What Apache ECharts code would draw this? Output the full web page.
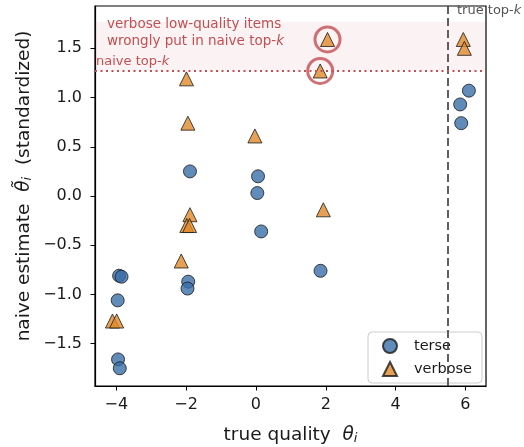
<!DOCTYPE html>
<html><head><meta charset="utf-8">
<script src="https://cdn.jsdelivr.net/npm/echarts@6/dist/echarts.min.js"></script>
<style>html,body{margin:0;padding:0;background:#fff}#c{width:524px;height:447px}</style>
</head><body><div id="c"></div>
<script>
// ---- data ----
const terseX = [6.10, 5.85, 5.88, 0.06, 0.04, 0.15, 1.85, -1.89, -3.92, -3.85, -3.96, -3.95, -3.90, -1.94, -1.96];
const terseY = [1.07, 0.93, 0.74, 0.20, 0.03, -0.36, -0.76, 0.25, -0.81, -0.82, -1.06, -1.66, -1.75, -0.87, -0.94];
const verboseX = [2.05, 1.84, -1.99, 5.94, 5.97, -1.95, -0.03, 1.93, -1.89, -1.98, -1.90, -2.14, -4.11, -3.99];
const verboseY = [1.59, 1.27, 1.19, 1.59, 1.50, 0.74, 0.61, -0.14, -0.19, -0.30, -0.30, -0.66, -1.27, -1.27];
const flaggedX = [2.05, 1.84];
const flaggedY = [1.59, 1.27];
const naiveCut = 1.275;
const bandTop = 1.77;
const trueCut = 5.5;
const xTicks = [-4, -2, 0, 2, 4, 6];
const yTicks = [-1.5, -1.0, -0.5, 0.0, 0.5, 1.0, 1.5];
const xRange = [-4.61, 6.59];
const yRange = [-1.93, 1.93];

const zip = (a, b) => a.map((v, i) => [v, b[i]]);
const fmt = (v, d) => { const s = Math.abs(v).toFixed(d); return v < 0 ? '\u2212' + s : s; };
const RED = '#c44e52', BLUE = '#3a6ea8', ORANGE = '#e0892b', INK = '#1a1a1a';
const FONT = 'DejaVu Sans';
const LBL = 18.5, SUB = 13;
const labelRich = {
  n: { fontSize: LBL, color: INK, fill: INK, fontFamily: FONT },
  t: { fontSize: LBL, color: INK, fill: INK, fontStyle: 'italic', fontFamily: FONT },
  s: { fontSize: SUB, color: INK, fill: INK, fontStyle: 'italic', fontFamily: FONT, verticalAlign: 'bottom', padding: [7, 0, 0, 0] }
};

const chart = echarts.init(document.getElementById('c'));
chart.setOption({
  animation: false,
  textStyle: { fontFamily: FONT },
  grid: { left: 95, right: 38, top: 6, bottom: 61, show: true, borderColor: '#000', borderWidth: 1.2,
          backgroundColor: 'transparent', containLabel: false, outerBoundsMode: 'none' },
  xAxis: {
    type: 'value', min: xRange[0], max: xRange[1],
    splitLine: { show: false },
    axisLine: { show: true, onZero: false, lineStyle: { color: '#000', width: 1.2 } },
    axisTick: { show: true, length: 4.5, lineStyle: { color: '#000', width: 1 }, customValues: xTicks },
    axisLabel: { customValues: xTicks, formatter: v => fmt(v, 0), color: INK, fontSize: 16, margin: 11, fontFamily: FONT },
    name: '{n|true quality  }{t|θ}{s|i}', nameLocation: 'middle', nameGap: 39,
    nameTextStyle: { rich: labelRich }
  },
  yAxis: {
    type: 'value', min: yRange[0], max: yRange[1],
    splitLine: { show: false },
    axisLine: { show: true, onZero: false, lineStyle: { color: '#000', width: 1.2 } },
    axisTick: { show: true, length: 4.5, lineStyle: { color: '#000', width: 1 }, customValues: yTicks },
    axisLabel: { customValues: yTicks, formatter: v => fmt(v, 1), color: INK, fontSize: 16, margin: 13, fontFamily: FONT }
  },
  legend: {
    orient: 'vertical', left: 368, top: 332,
    padding: [6, 10, 6, 14], itemGap: 7, itemWidth: 14, itemHeight: 14,
    borderColor: '#cccccc', borderWidth: 1, borderRadius: 4, backgroundColor: 'rgba(255,255,255,0.8)',
    textStyle: { fontSize: 14.5, color: INK, fontFamily: FONT, padding: [0, 0, 0, 12] },
    data: ['terse', 'verbose']
  },
  series: [
    {
      name: 'terse', type: 'scatter', symbol: 'circle', symbolSize: 13, z: 3,
      itemStyle: { color: BLUE, borderColor: INK, borderWidth: 1 },
      data: zip(terseX, terseY),
      markArea: { silent: true, itemStyle: { color: 'rgba(196,78,82,0.07)' },
        data: [[{ yAxis: naiveCut }, { yAxis: bandTop }]] },
      markLine: { silent: true, symbol: 'none', label: { show: false }, animation: false,
        data: [
          { xAxis: trueCut, lineStyle: { color: '#444', width: 1.7, type: [8, 4] } },
          { yAxis: naiveCut, lineStyle: { color: RED, width: 2, type: [2, 3.5] } }
        ] }
    },
    {
      name: 'verbose', type: 'scatter', symbol: 'triangle', symbolSize: 14, z: 4,
      itemStyle: { color: ORANGE, borderColor: INK, borderWidth: 1 },
      data: zip(verboseX, verboseY)
    },
    {
      name: 'flagged', type: 'scatter', symbol: 'circle', symbolSize: 25, z: 5, silent: true,
      itemStyle: { color: 'rgba(0,0,0,0)', borderColor: RED, borderWidth: 3 },
      data: zip(flaggedX, flaggedY)
    }
  ],
  graphic: [
    { type: 'text', x: 24, y: 186, rotation: Math.PI / 2,
      style: { text: '{n|naive estimate  }{t|θ\u0303}{s|i}{n|  (standardized)}', align: 'center', verticalAlign: 'middle', rich: labelRich } },
    { type: 'text', left: 107, top: 17, style: { text: 'verbose low-quality items', fill: RED, fontSize: 13.5, fontFamily: FONT } },
    { type: 'text', left: 107, top: 34, style: { text: '{a|wrongly put in naive top-}{b|k}', fill: RED, fontSize: 13.5, fontFamily: FONT,
        rich: { a: { fill: RED, fontSize: 13.5, fontFamily: FONT }, b: { fill: RED, fontSize: 13.5, fontFamily: FONT, fontStyle: 'italic' } } } },
    { type: 'text', left: 96, top: 55, style: { text: '{a|naive top-}{b|k}', fill: RED, fontSize: 13, fontFamily: FONT,
        rich: { a: { fill: RED, fontSize: 13, fontFamily: FONT }, b: { fill: RED, fontSize: 13, fontFamily: FONT, fontStyle: 'italic' } } } },
    { type: 'text', left: 457, top: 4, style: { text: '{a|true top-}{b|k}', fill: '#555', fontSize: 13, fontFamily: FONT,
        rich: { a: { fill: '#555', fontSize: 13, fontFamily: FONT }, b: { fill: '#555', fontSize: 13, fontFamily: FONT, fontStyle: 'italic' } } } }
  ]
});
</script></body></html>
